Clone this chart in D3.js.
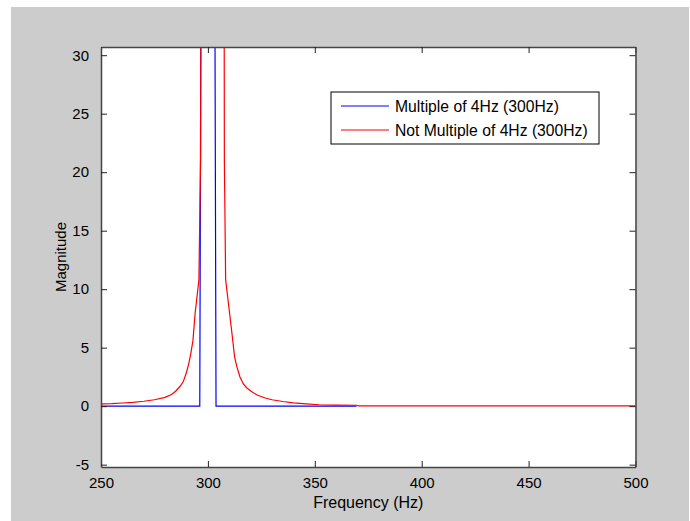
<!DOCTYPE html>
<html>
<head>
<meta charset="utf-8">
<script src="https://cdn.jsdelivr.net/npm/d3@7"></script>
<style>
  body { margin: 0; background: #fff; }
  text { font-family: "Liberation Sans", Arial, sans-serif; fill: #000; }
</style>
</head>
<body>
<div id="chart"></div>
<script>
// x domain and tick values
const xTicks = [250, 300, 350, 400, 450, 500]
const yTicks = [-5, 0, 5, 10, 15, 20, 25, 30]

// blue: bin lands on 300 Hz exactly (peak is clipped by the axes)
const blueFreq = [250, 296.2, 300, 303.8, 369.5]
const blueMag = [0, 0, 250, 0, 0]

// red: leakage around the peak (peak clipped)
const redFreq = [250, 255, 260, 265, 270, 275, 280, 283, 285, 287, 288.5, 290, 291, 292, 293, 294, 295.8, 296.6,
  297.5, 302, 307, 307.7, 308.3, 311.2, 312.5, 313.5, 315, 316.6, 318, 320, 323, 326.8, 330, 335, 340,
  346, 352, 360, 369.5, 370.5, 400, 450, 500]
const redMag = [0.2, 0.22, 0.27, 0.33, 0.42, 0.55, 0.75, 1.0, 1.3, 1.7, 2.1, 2.9, 3.6, 4.5, 5.6, 7.9, 10.8, 21.3,
  120, 250, 120, 21, 10.8, 6.3, 4.2, 3.4, 2.5, 1.9, 1.6, 1.3, 0.95, 0.7, 0.55, 0.4, 0.28,
  0.19, 0.12, 0.09, 0.08, 0.02, 0.02, 0.02, 0.02]

const legendLabels = ['Multiple of 4Hz (300Hz)', 'Not Multiple of 4Hz (300Hz)']
const colors = ['#0000ff', '#ff0000']

const W = 690, H = 521
const plot = {left: 101, top: 47, right: 635.5, bottom: 467}

const svg = d3.select('#chart').append('svg')
  .attr('width', W)
  .attr('height', H)

svg.append('rect')
  .attr('x', 11).attr('y', 7)
  .attr('width', 678).attr('height', 514)
  .attr('fill', '#cccccc')

const x = d3.scaleLinear().domain([250, 500]).range([plot.left, plot.right])
const y = d3.scaleLinear().domain([-5.2, 30.7]).range([plot.bottom, plot.top])

svg.append('rect')
  .attr('x', plot.left).attr('y', plot.top)
  .attr('width', plot.right - plot.left).attr('height', plot.bottom - plot.top)
  .attr('fill', '#fff')

svg.append('clipPath').attr('id', 'clip')
  .append('rect')
  .attr('x', plot.left).attr('y', plot.top)
  .attr('width', plot.right - plot.left).attr('height', plot.bottom - plot.top)

const line = d3.line().x(d => x(d[0])).y(d => y(d[1]))

const series = [
  d3.zip(blueFreq, blueMag),
  d3.zip(redFreq, redMag)
]

const g = svg.append('g').attr('clip-path', 'url(#clip)')
g.selectAll('path')
  .data(series)
  .join('path')
  .attr('d', line)
  .attr('fill', 'none')
  .attr('stroke', (d, i) => colors[i])
  .attr('stroke-width', 1.2)

// axes, MATLAB style: inward ticks on all four sides
const tick = 6
const fmt = d => String(d)
svg.append('g')
  .attr('transform', `translate(0,${plot.bottom})`)
  .call(d3.axisBottom(x).tickValues(xTicks).tickSizeInner(-tick).tickSizeOuter(0).tickPadding(10).tickFormat(fmt))
svg.append('g')
  .attr('transform', `translate(0,${plot.top})`)
  .call(d3.axisTop(x).tickValues(xTicks).tickSizeInner(-tick).tickSizeOuter(0).tickFormat(''))
svg.append('g')
  .attr('transform', `translate(${plot.left},0)`)
  .call(d3.axisLeft(y).tickValues(yTicks).tickSizeInner(-tick).tickSizeOuter(0).tickPadding(12).tickFormat(fmt))
svg.append('g')
  .attr('transform', `translate(${plot.right},0)`)
  .call(d3.axisRight(y).tickValues(yTicks).tickSizeInner(-tick).tickSizeOuter(0).tickFormat(''))

svg.selectAll('.domain').attr('stroke', '#444').attr('stroke-width', 1.5)
svg.selectAll('.tick line').attr('stroke', '#222')
svg.selectAll('.tick text')
  .style('font-family', '"Liberation Sans", Arial, sans-serif')
  .style('font-size', '15px')
  .attr('fill', '#000')

svg.append('text')
  .attr('x', (plot.left + plot.right) / 2)
  .attr('y', 508)
  .attr('text-anchor', 'middle')
  .style('font-size', '16px')
  .text('Frequency (Hz)')

svg.append('text')
  .attr('transform', `translate(66,${(plot.top + plot.bottom) / 2}) rotate(-90)`)
  .attr('text-anchor', 'middle')
  .style('font-size', '15px')
  .text('Magnitude')

// legend
const lg = svg.append('g').attr('transform', 'translate(331,92)')
lg.append('rect')
  .attr('width', 268).attr('height', 52)
  .attr('fill', '#fff')
  .attr('stroke', '#000')
  .attr('stroke-width', 1)
const items = lg.selectAll('g.item')
  .data(legendLabels)
  .join('g')
  .attr('class', 'item')
  .attr('transform', (d, i) => `translate(0,${14 + i * 24})`)
items.append('line')
  .attr('x1', 10).attr('x2', 58)
  .attr('stroke', (d, i) => colors[i])
  .attr('stroke-width', 1.2)
items.append('text')
  .attr('x', 64)
  .attr('dy', '0.35em')
  .style('font-size', '15.7px')
  .text(d => d)
</script>
</body>
</html>
